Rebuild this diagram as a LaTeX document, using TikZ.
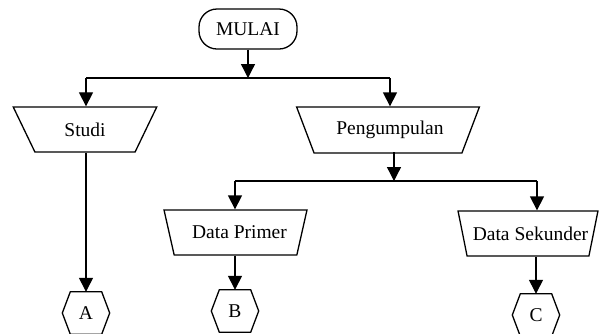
\documentclass[tikz,border=0pt]{standalone}
\usepackage{fontspec}
\setmainfont{Liberation Serif}
\usetikzlibrary{shapes.geometric,arrows.meta}
\begin{document}
\begin{tikzpicture}[x=1pt,y=-1pt,
  every node/.style={font=\fontsize{19.5}{22}\selectfont},
  ln/.style={line width=1.3pt},
  arr/.style={ln,-{Triangle[length=14pt,width=14pt]}},
  term/.style={draw,ln,rectangle,rounded corners=18pt,minimum width=98pt,minimum height=40pt,inner sep=0pt},
  trap/.style={draw,ln,trapezium,shape border rotate=180,trapezium stretches=true,inner sep=0pt,minimum height=45pt,trapezium angle=57},
  hexa/.style={minimum width=47pt,minimum height=42pt,inner sep=0pt}]
\path[use as bounding box] (0,0) rectangle (616,333);
\clip (0,0) rectangle (616,333);

\node[term] (mulai) at (248,29) {MULAI};
\node[trap,minimum width=144pt] (studi) at (85,129.5) {Studi};
\node[trap,minimum width=183pt,minimum height=46pt,trapezium angle=53.5] (peng) at (388,130) {\hspace*{4pt}Pengumpulan};
\node[trap,minimum width=143pt] (dp) at (235.5,232.5) {\hspace*{8pt}Data Primer};
\node[trap,minimum width=140pt] (ds) at (528,233.5) {\hspace*{5pt}Data Sekunder};

\node[hexa] (A) at (86,313) {A};
\node[hexa] (B) at (235,311) {B};
\node[hexa] (C) at (536,315) {C};
\foreach \n in {A,B,C}
  \draw[ln] (\n.west) -- ([xshift=8pt]\n.north west) -- ([xshift=-8pt]\n.north east) -- (\n.east) -- ([xshift=-8pt]\n.south east) -- ([xshift=8pt]\n.south west) -- cycle;

\coordinate (tl) at (86,78);
\coordinate (tr) at (390,78);
\coordinate (ml) at (235,181);
\coordinate (mr) at (537,181);
\coordinate (pout) at (394,152);

\draw[ln] (tl) -- (tr);
\draw[arr] (mulai.south) -- (mulai.south |- tl);
\draw[arr] (tl) -- (tl |- studi.north);
\draw[arr] (tr) -- (tr |- peng.north);
\draw[arr] (pout) -- (pout |- ml);
\draw[ln] (ml) -- (mr);
\draw[arr] (ml) -- (ml |- dp.north);
\draw[arr] (mr) -- (mr |- ds.north);
\draw[arr] (studi.south -| A.north) -- (A.north);
\draw[arr] (dp.south -| B.north) -- (B.north);
\draw[arr] (ds.south -| C.north) -- (C.north);
\end{tikzpicture}
\end{document}
